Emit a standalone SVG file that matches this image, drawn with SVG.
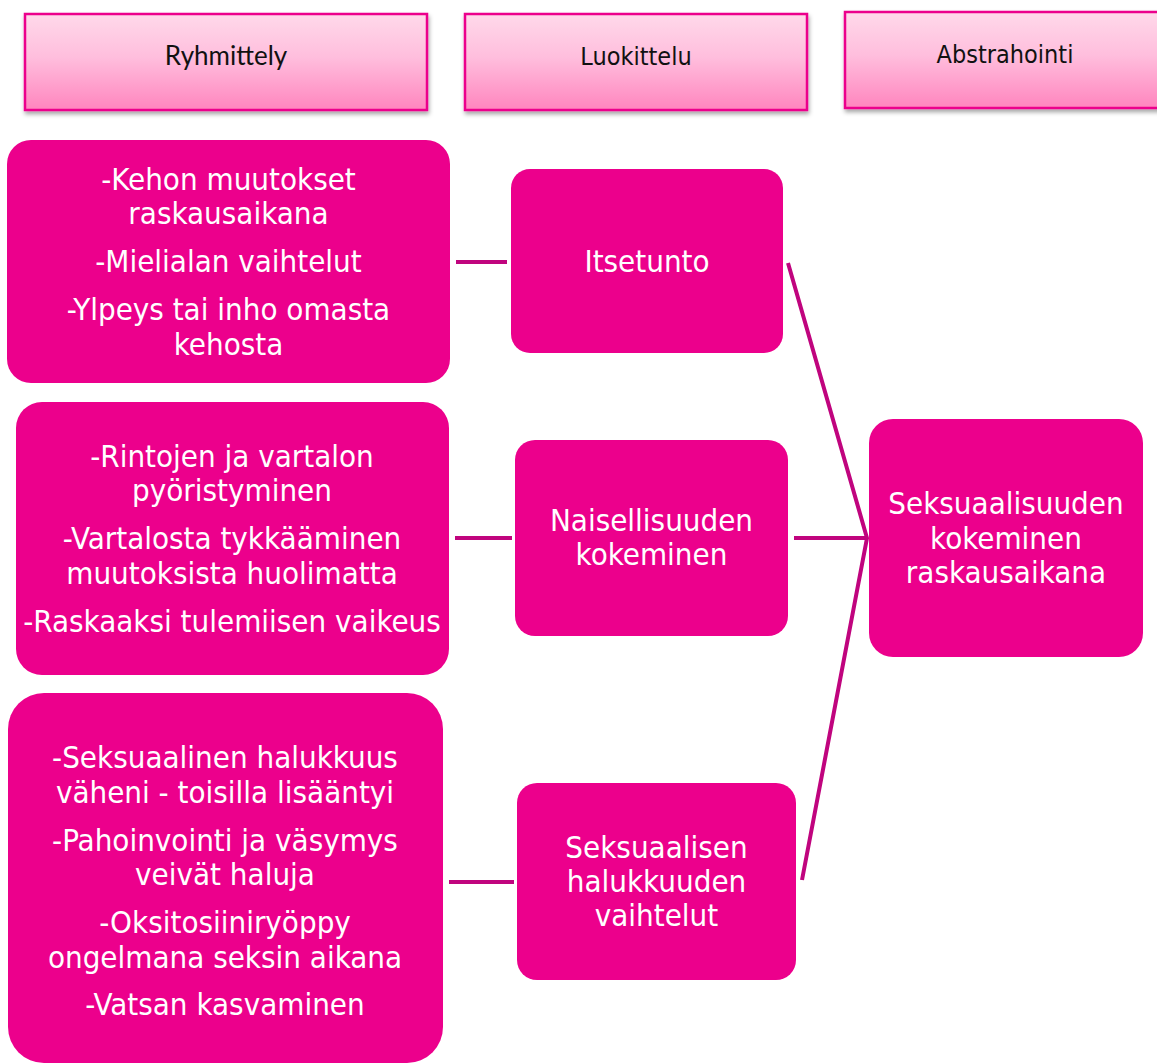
<svg xmlns="http://www.w3.org/2000/svg" width="1157" height="1064" viewBox="0 0 1157 1064">
<defs>
<linearGradient id="hg" x1="0" y1="0" x2="0" y2="1">
<stop offset="0" stop-color="#FFD9EA"/>
<stop offset="0.45" stop-color="#FFBEDD"/>
<stop offset="1" stop-color="#FF85BE"/>
</linearGradient>
<filter id="sh" x="-10%" y="-20%" width="120%" height="150%">
<feDropShadow dx="1" dy="3" stdDeviation="2" flood-color="#000" flood-opacity="0.35"/>
</filter>
<style>
.hdr{fill:url(#hg);stroke:#EC008C;stroke-width:2.5;filter:url(#sh)}
.box{fill:#EC008C}
.ht{font-family:"DejaVu Sans Condensed","DejaVu Sans",sans-serif;font-size:25px;fill:#111;text-anchor:middle}
.hl{font-family:Lato,"Open Sans",sans-serif;font-size:26px;fill:#111;text-anchor:middle}
.t{font-family:"DejaVu Sans Condensed","DejaVu Sans",sans-serif;font-size:31px;fill:#fff;text-anchor:middle}
.c{stroke:#C0047E;stroke-width:4;fill:none}
</style>
</defs>
<rect width="1157" height="1064" fill="#fff"/>

<g id="header-ryhmittely">
<rect class="hdr" x="25" y="14" width="402" height="96"/>
<text class="hl" x="226" y="65">Ryhmittely</text>
</g>
<g id="header-luokittelu">
<rect class="hdr" x="465" y="14" width="342" height="96"/>
<text class="ht" x="636" y="65">Luokittelu</text>
</g>
<g id="header-abstrahointi">
<rect class="hdr" x="845" y="12" width="320" height="96"/>
<text class="ht" x="1005" y="63">Abstrahointi</text>
</g>

<g id="connectors">
<line class="c" x1="456" y1="262" x2="507" y2="262"/>
<line class="c" x1="455" y1="538" x2="512" y2="538"/>
<line class="c" x1="449" y1="882" x2="514" y2="882"/>
<line class="c" x1="794" y1="538" x2="867" y2="538"/>
<polyline class="c" points="788,263 867,538 802,880" stroke-linejoin="miter"/>
</g>

<g id="node-b1">
<rect class="box" x="7" y="140" width="443" height="243" rx="24"/>
<text class="t" x="228.5" y="190">-Kehon muutokset</text>
<text class="t" x="228.5" y="224">raskausaikana</text>
<text class="t" x="228.5" y="272">-Mielialan vaihtelut</text>
<text class="t" x="228.5" y="320">-Ylpeys tai inho omasta</text>
<text class="t" x="228.5" y="355">kehosta</text>
</g>
<g id="node-b2">
<rect class="box" x="16" y="402" width="433" height="273" rx="26"/>
<text class="t" x="232" y="467">-Rintojen ja vartalon</text>
<text class="t" x="232" y="501">pyöristyminen</text>
<text class="t" x="232" y="549">-Vartalosta tykkääminen</text>
<text class="t" x="232" y="584">muutoksista huolimatta</text>
<text class="t" x="232" y="632">-Raskaaksi tulemiisen vaikeus</text>
</g>
<g id="node-b3">
<rect class="box" x="8" y="693" width="435" height="370" rx="36"/>
<text class="t" x="225" y="768">-Seksuaalinen halukkuus</text>
<text class="t" x="225" y="803">väheni - toisilla lisääntyi</text>
<text class="t" x="225" y="851">-Pahoinvointi ja väsymys</text>
<text class="t" x="225" y="885">veivät haluja</text>
<text class="t" x="225" y="933">-Oksitosiiniryöppy</text>
<text class="t" x="225" y="968">ongelmana seksin aikana</text>
<text class="t" x="225" y="1015">-Vatsan kasvaminen</text>
</g>
<g id="node-itsetunto">
<rect class="box" x="511" y="169" width="272" height="184" rx="19"/>
<text class="t" x="647" y="272">Itsetunto</text>
</g>
<g id="node-naisellisuus">
<rect class="box" x="515" y="440" width="273" height="196" rx="20"/>
<text class="t" x="651.5" y="531">Naisellisuuden</text>
<text class="t" x="651.5" y="565">kokeminen</text>
</g>
<g id="node-halukkuus">
<rect class="box" x="517" y="783" width="279" height="197" rx="20"/>
<text class="t" x="656.5" y="858">Seksuaalisen</text>
<text class="t" x="656.5" y="892">halukkuuden</text>
<text class="t" x="656.5" y="926">vaihtelut</text>
</g>
<g id="node-seksuaalisuus">
<rect class="box" x="869" y="419" width="274" height="238" rx="24"/>
<text class="t" x="1006" y="514">Seksuaalisuuden</text>
<text class="t" x="1006" y="549">kokeminen</text>
<text class="t" x="1006" y="583">raskausaikana</text>
</g>
</svg>
